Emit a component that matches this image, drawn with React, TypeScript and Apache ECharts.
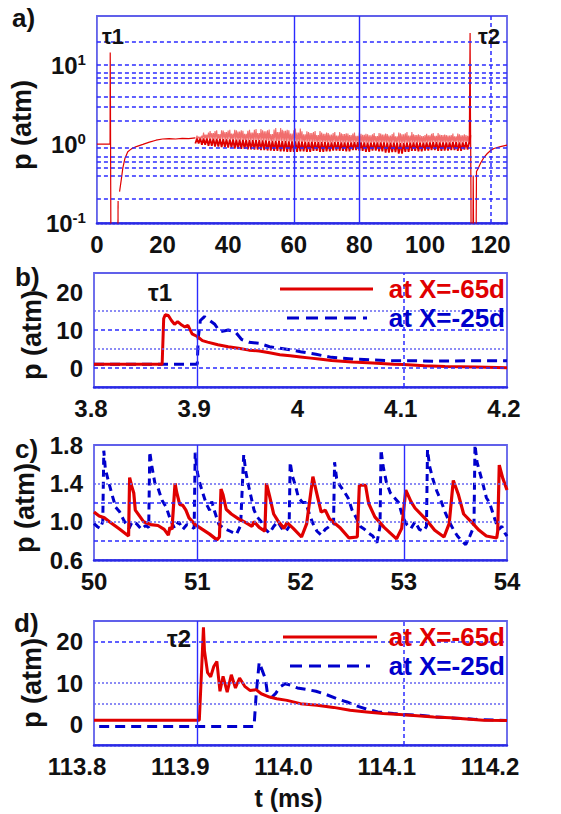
import React, { useEffect, useRef } from 'react';
import * as echarts from 'echarts';

const FONT = '"Liberation Sans", Arial, Helvetica, sans-serif';
const RED = '#e00000';
const BLUE = '#0000cc';
const INK = '#111111';

// ---------- panel a (log scale overview) ----------
const aPre = [[0, 1.0], [4.0, 1.0], [4.05, 14.5], [4.12, 3.5], [4.2, 0.3], [4.3, 0.02]];
const aStroke = [[6.35, 0.02], [6.45, 0.19]];
const aRamp = [[6.9, 0.25], [7.4, 0.35], [7.9, 0.5], [8.5, 0.65], [9.4, 0.8], [10.5, 0.87], [12, 0.93], [14, 0.99], [16, 1.06], [18, 1.12], [20, 1.16], [22, 1.17], [24, 1.16], [26, 1.18], [28, 1.17], [30, 1.2]];
const aBandT = [30, 32, 34, 36, 38, 40, 42, 44, 46, 48, 50, 52, 54, 56, 58, 60, 62, 64, 66, 68, 70, 72, 74, 76, 78, 80, 82, 84, 86, 88, 90, 92, 94, 96, 98, 100, 102, 104, 106, 108, 110, 112];
const aHi = [1.28, 1.40, 1.46, 1.50, 1.48, 1.52, 1.50, 1.47, 1.52, 1.55, 1.50, 1.53, 1.60, 1.52, 1.50, 1.58, 1.45, 1.42, 1.46, 1.40, 1.38, 1.42, 1.37, 1.36, 1.40, 1.35, 1.33, 1.38, 1.36, 1.34, 1.40, 1.37, 1.42, 1.33, 1.30, 1.35, 1.38, 1.32, 1.30, 1.36, 1.33, 1.30];
const aHi2 = [1.24, 1.32, 1.38, 1.34, 1.42, 1.36, 1.44, 1.35, 1.40, 1.38, 1.45, 1.34, 1.42, 1.47, 1.36, 1.40, 1.33, 1.38, 1.30, 1.35, 1.32, 1.28, 1.34, 1.30, 1.27, 1.31, 1.29, 1.26, 1.32, 1.28, 1.25, 1.33, 1.28, 1.30, 1.26, 1.29, 1.27, 1.30, 1.28, 1.25, 1.29, 1.27];
const aMid = [1.18, 1.18, 1.17, 1.16, 1.15, 1.15, 1.14, 1.13, 1.12, 1.12, 1.11, 1.10, 1.10, 1.09, 1.08, 1.08, 1.07, 1.07, 1.06, 1.06, 1.05, 1.06, 1.05, 1.05, 1.06, 1.05, 1.04, 1.05, 1.05, 1.04, 1.04, 1.03, 1.04, 1.05, 1.04, 1.05, 1.06, 1.05, 1.05, 1.06, 1.05, 1.06];
const aLo = [1.02, 0.98, 0.95, 0.93, 0.92, 0.90, 0.88, 0.87, 0.86, 0.85, 0.84, 0.83, 0.82, 0.81, 0.80, 0.80, 0.81, 0.80, 0.82, 0.80, 0.81, 0.83, 0.82, 0.81, 0.84, 0.82, 0.80, 0.83, 0.81, 0.78, 0.79, 0.76, 0.80, 0.82, 0.81, 0.83, 0.84, 0.82, 0.83, 0.84, 0.82, 0.85];
const aPost = [[113.5, 1.0], [113.7, 1.0], [113.75, 25.5], [113.85, 3], [114.0, 0.3], [114.1, 0.02], [114.55, 0.02], [114.7, 0.4], [114.85, 0.05], [115.1, 0.02], [115.5, 0.02], [115.7, 0.45], [116.3, 0.5], [117, 0.58], [118, 0.68], [119, 0.76], [120, 0.83], [121, 0.88], [123, 0.93], [125, 0.97]];
const aGridY = [20, 10, 8, 7, 6, 4, 3, 2, 0.9, 0.7, 0.6, 0.5, 0.4, 0.2];

// ---------- panel b ----------
const bRed = [[3.8, 1.0], [3.866, 1.0], [3.8675, 13], [3.869, 14], [3.872, 13.8], [3.875, 12.5], [3.878, 11.5], [3.881, 12.2], [3.885, 11.3], [3.888, 10.8], [3.891, 11.2], [3.895, 9.0], [3.9, 8.3], [3.905, 7.2], [3.91, 6.8], [3.92, 6.1], [3.93, 5.6], [3.94, 5.2], [3.95, 4.7], [3.96, 4.5], [3.97, 4.0], [3.98, 3.5], [3.99, 3.2], [4.0, 2.9], [4.01, 2.6], [4.02, 2.3], [4.03, 2.0], [4.04, 1.8], [4.05, 1.6], [4.07, 1.3], [4.09, 1.0], [4.1, 0.9], [4.12, 0.6], [4.14, 0.4], [4.17, 0.25], [4.2, 0.05]];
const bBlue = [[3.8, 1.0], [3.9, 1.0], [3.901, 8], [3.903, 12.5], [3.907, 13.5], [3.912, 12.5], [3.917, 11.5], [3.922, 9.5], [3.93, 10], [3.937, 9.5], [3.943, 7.5], [3.95, 6.8], [3.96, 6.5], [3.97, 5.6], [3.98, 5.2], [3.99, 4.8], [4.0, 4.3], [4.015, 3.6], [4.03, 2.8], [4.05, 2.4], [4.07, 2.1], [4.09, 1.9], [4.11, 1.9], [4.13, 1.8], [4.16, 1.9], [4.2, 1.9]];

// ---------- panel c ----------
const cRed = [[50.00, 1.10], [50.05, 1.06], [50.10, 1.04], [50.15, 1.00], [50.20, 0.96], [50.25, 0.92], [50.30, 0.88], [50.335, 0.85],
  [50.345, 1.46], [50.365, 1.37], [50.385, 1.30], [50.40, 1.12], [50.44, 1.06], [50.48, 1.00], [50.55, 0.97], [50.62, 0.96], [50.68, 0.92], [50.72, 0.86], [50.735, 0.94], [50.755, 0.92],
  [50.785, 1.40], [50.80, 1.31], [50.83, 1.18], [50.86, 1.17], [50.89, 1.12], [50.92, 1.04], [50.98, 0.97], [51.05, 0.92], [51.12, 0.87], [51.19, 0.81], [51.215, 0.84],
  [51.23, 1.34], [51.25, 1.28], [51.28, 1.13], [51.33, 1.08], [51.40, 1.03], [51.47, 0.99], [51.53, 0.95], [51.55, 1.00], [51.60, 0.94], [51.655, 0.90],
  [51.67, 1.40], [51.70, 1.27], [51.74, 1.08], [51.78, 1.01], [51.84, 0.93], [51.87, 0.99], [51.93, 0.93], [52.01, 0.84], [52.06, 0.98],
  [52.12, 1.47], [52.15, 1.33], [52.20, 1.10], [52.24, 1.12], [52.28, 1.03], [52.38, 0.94], [52.47, 0.83], [52.55, 0.84],
  [52.57, 1.38], [52.63, 1.38], [52.66, 1.19], [52.72, 1.05], [52.81, 0.94], [52.93, 0.82], [52.98, 0.93],
  [53.02, 1.33], [53.07, 1.21], [53.11, 1.14], [53.21, 1.03], [53.30, 0.91], [53.39, 0.84], [53.44, 0.98],
  [53.48, 1.43], [53.53, 1.28], [53.58, 1.08], [53.67, 0.98], [53.73, 0.91], [53.80, 0.85], [53.90, 0.83], [53.91, 0.90],
  [53.925, 1.59], [53.96, 1.45], [54.0, 1.33]];
const cBlue = [[50.00, 0.98], [50.03, 0.95], [50.06, 0.93], [50.085, 1.0],
  [50.095, 1.74], [50.11, 1.55], [50.14, 1.42], [50.17, 1.30], [50.21, 1.15], [50.25, 1.10], [50.29, 1.01], [50.34, 0.93], [50.37, 1.0], [50.41, 0.98], [50.46, 0.92], [50.50, 0.96], [50.53, 0.94],
  [50.54, 1.73], [50.56, 1.58], [50.59, 1.40], [50.62, 1.35], [50.66, 1.22], [50.70, 1.15], [50.74, 1.02], [50.78, 0.93], [50.82, 1.0], [50.86, 0.92], [50.90, 0.97], [50.94, 0.95], [50.97, 0.93],
  [50.98, 1.72], [51.00, 1.52], [51.02, 1.42], [51.05, 1.31], [51.09, 1.18], [51.12, 1.12], [51.14, 1.21], [51.17, 1.10], [51.21, 0.97], [51.26, 0.93], [51.32, 0.90], [51.38, 0.87], [51.42, 0.96],
  [51.45, 1.70], [51.47, 1.52], [51.50, 1.36], [51.55, 1.12], [51.58, 1.05], [51.62, 1.0], [51.66, 0.92], [51.70, 0.88], [51.74, 0.95], [51.78, 1.0], [51.82, 0.93], [51.86, 0.90], [51.89, 0.95],
  [51.90, 1.62], [51.92, 1.48], [51.95, 1.38], [51.98, 1.25], [52.02, 1.20], [52.05, 1.20], [52.08, 1.10], [52.12, 0.98], [52.16, 0.90], [52.20, 0.86], [52.24, 0.92], [52.28, 0.95], [52.32, 0.97],
  [52.33, 1.62], [52.35, 1.45], [52.38, 1.38], [52.42, 1.32], [52.46, 1.25], [52.50, 1.12], [52.54, 1.04], [52.58, 0.95], [52.62, 0.92], [52.66, 0.88], [52.70, 0.85], [52.74, 0.78], [52.77, 0.95],
  [52.78, 1.75], [52.80, 1.58], [52.83, 1.42], [52.87, 1.30], [52.91, 1.25], [52.95, 1.20], [52.99, 1.05], [53.03, 0.97], [53.07, 0.93], [53.11, 1.0], [53.15, 0.92], [53.19, 0.90], [53.22, 0.95],
  [53.23, 1.75], [53.25, 1.58], [53.28, 1.45], [53.32, 1.32], [53.36, 1.22], [53.40, 1.10], [53.44, 1.0], [53.48, 0.92], [53.52, 0.85], [53.56, 0.80], [53.60, 0.76], [53.64, 0.85], [53.68, 0.95],
  [53.69, 1.80], [53.71, 1.62], [53.74, 1.50], [53.77, 1.38], [53.80, 1.25], [53.83, 1.20], [53.86, 1.10], [53.89, 1.0], [53.92, 0.92], [53.95, 0.95], [53.98, 0.88], [54.0, 0.85]];

// ---------- panel d ----------
const dRed = [[113.8, 1.0], [113.902, 1.0], [113.904, 12], [113.906, 23.5], [113.907, 17.8], [113.91, 12.5], [113.913, 11.5], [113.916, 14.0], [113.919, 15.2], [113.922, 8.0], [113.925, 11.6], [113.929, 7.8], [113.933, 12.0], [113.937, 8.8], [113.941, 11.2], [113.946, 9.2], [113.951, 8.2], [113.957, 8.4], [113.962, 7.4], [113.97, 6.6], [113.977, 6.2], [113.987, 5.8], [114.0, 5.0], [114.016, 4.6], [114.032, 4.1], [114.048, 3.4], [114.064, 3.0], [114.08, 2.6], [114.096, 2.4], [114.113, 2.1], [114.129, 1.8], [114.145, 1.6], [114.161, 1.3], [114.177, 1.0], [114.2, 0.9]];
const dBlue = [[113.805, -0.5], [113.955, -0.5], [113.957, 7], [113.96, 15], [113.963, 13], [113.966, 11], [113.968, 7.5], [113.972, 6.5], [113.976, 7.5], [113.98, 9], [113.985, 9.8], [113.99, 9.5], [113.997, 8.8], [114.005, 8.5], [114.015, 8.0], [114.025, 7.2], [114.035, 6.2], [114.045, 5.4], [114.055, 4.4], [114.065, 3.6], [114.075, 3.0], [114.09, 2.6], [114.1, 2.4], [114.115, 2.2], [114.13, 1.8], [114.15, 1.5], [114.17, 1.2], [114.2, 0.9]];

const NAME65 = 'at X=-65d';
const NAME25 = 'at X=-25d';

const GRIDBLUE = '#2b2bff';
const DARK = { color: GRIDBLUE, width: 1.5, type: [4, 3], opacity: 1 };
const LIGHT = { color: '#6666f2', width: 1.5, type: [2, 2], opacity: 1 };
const SOLID = { color: GRIDBLUE, width: 1.4, type: 'solid', opacity: 1 };

function guide(k: number, lines: { v: number; axis: 'xAxis' | 'yAxis'; s: any }[]) {
  return {
    type: 'line',
    xAxisIndex: k,
    yAxisIndex: k,
    data: [],
    silent: true,
    z: 1,
    itemStyle: { color: GRIDBLUE },
    markLine: {
      silent: true,
      symbol: ['none', 'none'],
      label: { show: false },
      lineStyle: { color: GRIDBLUE, width: 1.5 },
      emphasis: { disabled: true },
      data: lines.map((l) => ({ [l.axis]: l.v, lineStyle: l.s })),
    },
  };
}

const axisLabel = { fontSize: 24, fontWeight: 'bold', color: INK, fontFamily: FONT };

function xAx(k: number, min: number, max: number, interval: number, extra: any = {}) {
  return {
    type: 'value',
    gridIndex: k,
    min,
    max,
    interval,
    axisLine: { show: true, onZero: false, lineStyle: { color: '#2a2ae6', width: 2.5, type: [2, 2] } },
    axisTick: { show: false },
    splitLine: { show: false },
    axisLabel: { ...axisLabel, margin: 9, ...(extra.axisLabel || {}) },
    ...extra.rest,
  };
}

function yAx(k: number, shift: number, extra: any) {
  return {
    gridIndex: k,
    axisLine: { show: false },
    axisTick: { show: false },
    splitLine: { show: false },
    name: 'p (atm)',
    nameLocation: 'middle',
    nameGap: 47,
    nameTextStyle: { fontSize: 27, fontWeight: 'bold', color: INK, fontFamily: FONT, padding: [0, shift, 0, 0] },
    ...extra,
    axisLabel: { ...axisLabel, margin: 11, ...(extra.axisLabel || {}) },
  };
}

function buildOption() {
  const spikes: number[][] = [];
  const core: number[][] = [];
  aBandT.forEach((t, i) => {
    spikes.push([t + 0.25, aMid[i]], [t + 0.5, aHi[i]], [t + 0.75, aMid[i]], [t + 1.0, aHi2[i]],
      [t + 1.25, aMid[i]], [t + 1.5, aHi2[i]], [t + 1.75, aMid[i]], [t + 2.0, aHi[i]]);
    core.push([t, aLo[i]], [t + 0.5, aMid[i]], [t + 1, aLo[i]], [t + 1.5, aMid[i]]);
  });
  core.push([113.5, 1.0]);

  const aLine = (data: number[][], extra: any = {}) => ({
    type: 'line', xAxisIndex: 0, yAxisIndex: 0, data, symbol: 'none', z: 3,
    lineStyle: { color: RED, width: 1.2 }, ...extra,
  });

  const grids = [
    { left: 94, top: 16, width: 413, height: 207 },
    { left: 94, top: 273, width: 413, height: 114 },
    { left: 94, top: 445, width: 413, height: 115 },
    { left: 94, top: 621, width: 413, height: 124 },
  ].map((g) => ({ ...g, show: true, borderColor: '#6060ea', borderWidth: 1.8, backgroundColor: '#ffffff' }));

  const supLabel = (v: number) => {
    const e = Math.round(Math.log10(v));
    if (Math.abs(Math.log10(v) - e) > 1e-6 || e > 1) return '';
    return '{b|10}{s|' + e + '}';
  };

  const txt = (text: string, x: number, y: number, size = 26, color = INK, align = 'left') => ({
    type: 'text', x, y, z: 10,
    style: { text, font: `bold ${size}px ${FONT}`, fill: color, align, verticalAlign: 'middle' },
  });
  const seg = (x1: number, x2: number, y: number, color: string, dash?: number[]) => ({
    type: 'line', z: 10,
    shape: { x1, y1: y, x2, y2: y },
    style: { stroke: color, lineWidth: 3, lineDash: dash },
  });

  return {
    animation: false,
    backgroundColor: '#ffffff',
    grid: grids,
    xAxis: [
      xAx(0, 0, 125, 20, { axisLabel: { showMaxLabel: false } }),
      xAx(1, 3.8, 4.2, 0.1, { axisLabel: { padding: [0, 6, 0, 0] } }),
      xAx(2, 50, 54, 1),
      xAx(3, 113.8, 114.2, 0.1, {
        axisLabel: { formatter: (v: number) => v.toFixed(1), padding: [0, 34, 0, 0] },
        rest: {
          name: 't (ms)', nameLocation: 'middle', nameGap: 40,
          nameTextStyle: { fontSize: 25, fontWeight: 'bold', color: INK, fontFamily: FONT, padding: [0, 24, 0, 0] },
        },
      }),
    ],
    yAxis: [
      yAx(0, 11, {
        type: 'log', logBase: 10, min: 0.1, max: 42,
        axisLabel: {
          formatter: supLabel,
          rich: {
            b: { fontSize: 24, fontWeight: 'bold', color: INK, fontFamily: FONT, lineHeight: 26 },
            s: { fontSize: 15, fontWeight: 'bold', color: INK, fontFamily: FONT, lineHeight: 26, verticalAlign: 'top', padding: [0, 0, 12, 0] },
          },
        },
      }),
      yAx(1, 10, { type: 'value', min: -5, max: 25, interval: 5, axisLabel: { formatter: (v: number) => (Math.round(v) % 10 === 0 && v >= 0 && v <= 20 ? String(v) : '') } }),
      yAx(2, 11, { type: 'value', min: 0.6, max: 1.8, interval: 0.2, axisLabel: { formatter: (v: number) => (Math.round(v * 10) % 4 === 2 ? v.toFixed(1) : '') } }),
      yAx(3, 0, { type: 'value', min: -5, max: 25, interval: 5, axisLabel: { formatter: (v: number) => (Math.round(v) % 10 === 0 && v >= 0 && v <= 20 ? String(v) : '') } }),
    ],
    graphic: [
      txt('a)', 12, 18),
      txt('b)', 15, 277),
      txt('c)', 15, 449),
      txt('d)', 14, 623),
      txt('τ1', 102, 36, 22),
      txt('τ2', 478, 36, 22),
      txt('τ1', 148, 292, 24),
      txt('τ2', 167, 638, 24),
      seg(280, 373, 289, RED),
      txt(NAME65, 505, 289, 26, RED, 'right'),
      seg(287, 367, 318, BLUE, [12, 7]),
      txt(NAME25, 505, 318, 26, BLUE, 'right'),
      seg(283, 377, 637, RED),
      txt(NAME65, 505, 637, 26, RED, 'right'),
      seg(290, 370, 666, BLUE, [12, 7]),
      txt(NAME25, 505, 666, 26, BLUE, 'right'),
    ],
    series: [
      guide(0, [
        ...aGridY.map((v) => ({ v, axis: 'yAxis' as const, s: DARK })),
        { v: 60, axis: 'xAxis', s: SOLID },
        { v: 80, axis: 'xAxis', s: SOLID },
        { v: 120, axis: 'xAxis', s: DARK },
      ]),
      guide(1, [
        { v: 15, axis: 'yAxis', s: LIGHT },
        { v: 10, axis: 'yAxis', s: DARK },
        { v: 5, axis: 'yAxis', s: LIGHT },
        { v: 0, axis: 'yAxis', s: DARK },
        { v: 3.9, axis: 'xAxis', s: SOLID },
        { v: 4.1, axis: 'xAxis', s: DARK },
      ]),
      guide(2, [
        { v: 1.4, axis: 'yAxis', s: LIGHT },
        { v: 1.2, axis: 'yAxis', s: DARK },
        { v: 1.0, axis: 'yAxis', s: LIGHT },
        { v: 0.8, axis: 'yAxis', s: DARK },
        { v: 51, axis: 'xAxis', s: SOLID },
        { v: 53, axis: 'xAxis', s: SOLID },
      ]),
      guide(3, [
        { v: 20, axis: 'yAxis', s: DARK },
        { v: 10, axis: 'yAxis', s: LIGHT },
        { v: 5, axis: 'yAxis', s: LIGHT },
        { v: 113.9, axis: 'xAxis', s: SOLID },
        { v: 114.1, axis: 'xAxis', s: DARK },
      ]),
      aLine(aPre),
      aLine(aStroke),
      aLine(aRamp),
      aLine(spikes, { lineStyle: { color: 'rgba(232,20,20,0.62)', width: 1.1 } }),
      aLine(core, { lineStyle: { color: '#dd0000', width: 1.8 } }),
      aLine(aPost),
      { type: 'line', name: NAME25, xAxisIndex: 1, yAxisIndex: 1, data: bBlue, symbol: 'none', z: 3, lineStyle: { color: BLUE, width: 3, type: [10, 6] } },
      { type: 'line', name: NAME65, xAxisIndex: 1, yAxisIndex: 1, data: bRed, symbol: 'none', z: 4, lineStyle: { color: RED, width: 3 } },
      { type: 'line', name: 'c25', xAxisIndex: 2, yAxisIndex: 2, data: cBlue, symbol: 'none', z: 3, lineStyle: { color: BLUE, width: 3, type: [7, 5] } },
      { type: 'line', name: 'c65', xAxisIndex: 2, yAxisIndex: 2, data: cRed, symbol: 'none', z: 4, lineStyle: { color: RED, width: 3.2 } },
      { type: 'line', name: NAME25, xAxisIndex: 3, yAxisIndex: 3, data: dBlue, symbol: 'none', z: 3, lineStyle: { color: BLUE, width: 3, type: [10, 6] } },
      { type: 'line', name: NAME65, xAxisIndex: 3, yAxisIndex: 3, data: dRed, symbol: 'none', z: 4, lineStyle: { color: RED, width: 3 } },
    ],
  };
}

export default function App() {
  const ref = useRef<HTMLDivElement>(null);
  useEffect(() => {
    if (!ref.current) return;
    const chart = echarts.init(ref.current, undefined, { renderer: 'svg' });
    chart.setOption(buildOption() as any);
    return () => chart.dispose();
  }, []);
  return (
    <div
      ref={ref}
      style={{ position: 'fixed', left: 0, top: 0, width: 561, height: 814, background: '#ffffff' }}
    />
  );
}
